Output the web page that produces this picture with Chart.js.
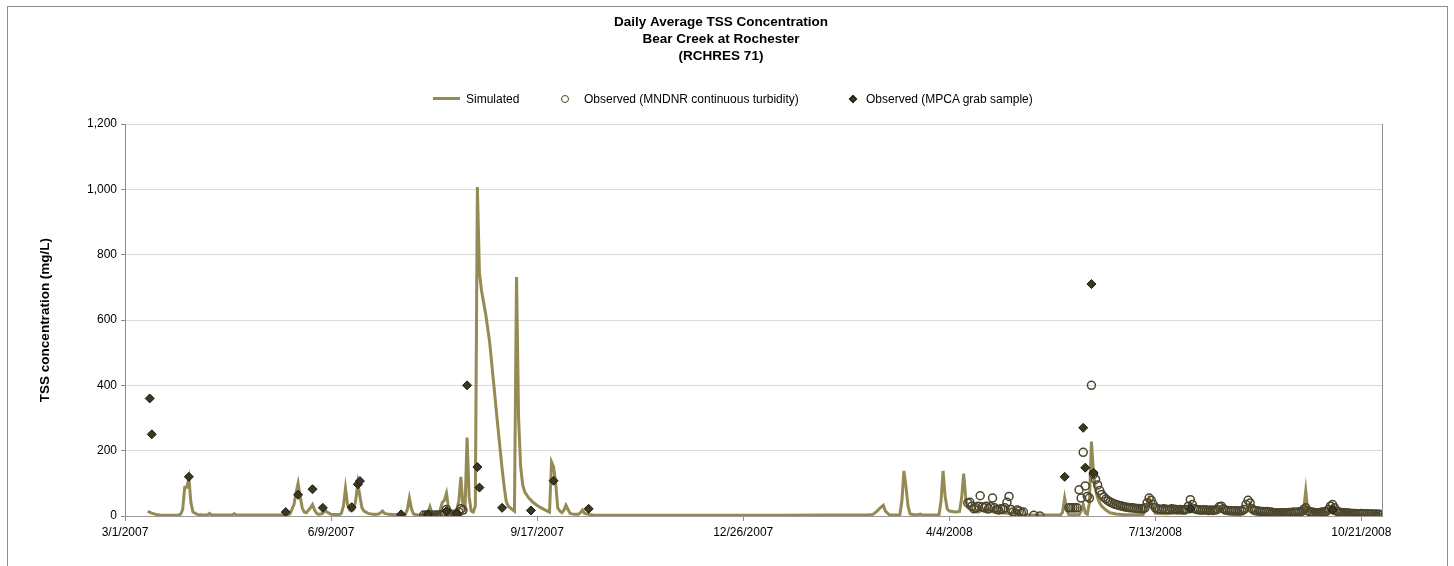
<!DOCTYPE html>
<html>
<head>
<meta charset="utf-8">
<title>Daily Average TSS Concentration - Bear Creek at Rochester</title>
<script src="https://cdn.jsdelivr.net/npm/chart.js@4/dist/chart.umd.min.js"></script>
<style>
    html, body { margin: 0; padding: 0; background: #fff; overflow: hidden; }
    body { width: 1454px; height: 566px; position: relative; font-family: 'Liberation Sans', Arial, sans-serif; }
    #frame { position: absolute; left: 7px; top: 6px; width: 1439px; height: 700px; border: 1px solid #8c8c8c; }
    #chart { position: absolute; left: 0; top: 0; }
    .legend-text { position: absolute; top: 92px; line-height: 14px; font-size: 12px; color: #000; white-space: nowrap; }
    .legend-mark { position: absolute; box-sizing: border-box; }
</style>
</head>
<body>
<div id="frame"></div>
<canvas id="chart" width="1454" height="566"></canvas>

<!-- legend -->
<div class="legend-mark" style="left:433px; top:97px; width:27px; height:3px; background:#948A54;"></div>
<span class="legend-text" style="left:466px;">Simulated</span>
<div class="legend-mark" style="left:561px; top:95px; width:8px; height:8px; border:1.25px solid #4A452A; border-radius:50%;"></div>
<span class="legend-text" style="left:584px;">Observed (MNDNR continuous turbidity)</span>
<div class="legend-mark" style="left:850px; top:96px; width:6px; height:6px; background:#3B3723; border:1px solid #1D1B10; transform:rotate(45deg);"></div>
<span class="legend-text" style="left:866px;">Observed (MPCA grab sample)</span>

<script>
// x values are days since 3/1/2007

// X axis ticks
const xTickDays = [0, 100, 200, 300, 400, 500, 600];
const xTickLabels = ['3/1/2007', '6/9/2007', '9/17/2007', '12/26/2007', '4/4/2008', '7/13/2008', '10/21/2008'];

// Simulated (model) daily TSS
const simDays = [
    11, 13, 15, 17, 20, 24, 26, 27, 28, 29, 30, 31, 32, 33, 35, 38, 40, 41, 42, 52, 53, 54, 70, 78, 80, 82, 83, 84, 85, 86,
    87, 88, 90, 91, 92, 93, 94, 96, 97, 98, 100, 104, 105, 106, 107, 108, 109, 110, 111, 112, 113, 114, 115, 116, 118, 121, 123, 124, 125, 126,
    128, 134, 136, 137, 138, 139, 140, 142, 146, 147, 148, 149, 150, 152, 153, 154, 155, 156, 157, 158, 160, 161, 162, 163, 164, 165, 166, 167, 168, 169,
    170, 171, 172, 173, 175, 177, 179, 181, 183, 184, 185, 186, 188, 189, 190, 191, 192, 193, 194, 196, 198, 200, 202, 204, 206, 207, 208, 209, 210, 211,
    212, 213, 214, 215, 216, 218, 220, 221, 222, 223, 225, 227, 240, 280, 320, 340, 360, 363, 365, 366, 368, 369, 371, 376, 377, 378, 379, 380, 381, 384,
    386, 387, 395, 396, 397, 398, 399, 400, 403, 405, 406, 407, 408, 409, 411, 414, 416, 418, 420, 423, 426, 429, 432, 435, 438, 454, 455, 456, 457, 458,
    463, 464, 465, 466, 467, 468, 469, 470, 471, 472, 473, 474, 476, 478, 481, 485, 494, 495, 496, 497, 498, 499, 500, 505, 510, 515, 516, 517, 518, 525,
    530, 531, 532, 533, 540, 544, 545, 546, 547, 555, 565, 571, 572, 573, 574, 580, 584, 585, 586, 587, 595, 605, 610
];
const simValues = [
    14, 9, 5, 3, 2, 2, 3, 6, 20, 88, 88, 115, 40, 12, 5, 3, 3, 8, 3, 3, 7, 3, 3, 3, 6, 35, 70, 100, 60, 25,
    12, 10, 25, 35, 18, 8, 5, 8, 20, 12, 5, 4, 8, 30, 85, 35, 18, 15, 20, 50, 100, 60, 25, 15, 8, 5, 6, 10, 15, 8,
    5, 3, 4, 20, 55, 22, 6, 3, 3, 10, 28, 8, 3, 3, 20, 42, 48, 70, 25, 6, 5, 20, 45, 120, 30, 20, 240, 60, 15, 12,
    30, 1007, 745, 690, 620, 530, 400, 270, 145, 90, 45, 30, 20, 15, 732, 300, 150, 95, 73, 55, 42, 32, 25, 18, 12, 165, 150, 100, 25, 15,
    10, 18, 33, 20, 8, 5, 5, 10, 18, 8, 5, 3, 2, 2, 2, 3, 3, 5, 15, 22, 33, 15, 3, 3, 45, 138, 90, 30, 6, 3,
    6, 3, 3, 45, 138, 60, 22, 15, 12, 14, 55, 130, 55, 25, 18, 12, 18, 12, 14, 11, 10, 8, 6, 4, 3, 3, 12, 55, 20, 4,
    4, 15, 35, 10, 5, 40, 228, 130, 80, 55, 40, 30, 18, 10, 6, 4, 4, 15, 35, 55, 45, 20, 8, 7, 9, 10, 14, 35, 14, 10,
    11, 14, 25, 12, 8, 12, 18, 35, 12, 8, 6, 8, 20, 77, 15, 8, 12, 18, 30, 10, 6, 5, 5
];

// Observed, MNDNR continuous turbidity (daily runs, null = no value)
const mndnr2007Start = 145;
const mndnr2007 = [3, 2, 3, 3, 2, 2, 3, 2, 3, 4, 8, 20, 10, 4, 3, 5, 6, 12, 22, 18];

const mndnrSpring2008Start = 409;
const mndnrSpring2008 = [
    40, 42, 30, 22, 25, 30, 62, 28, 25, 30, 22, 28, 55, 25, 20, 18, 22, 20, 25, 42,
    60, 20, 12, 8, 18, 15, 10, 12, null, null, null, null, 2, null, null, 0
];

const mndnrSummer2008Start = 458;
const mndnrSummer2008 = [
    25, 25, 25, 25, 25, 80, 55, 195, 92, 60, 55, 400, 128, 112, 95, 78, 66, 58, 52, 47,
    43, 40, 37, 35, 33, 31, 30, 28, 27, 26, 25, 25, 24, 23, 23, 22, 22, 25, 40, 55,
    48, 35, 25, 22, 21, 20, 22, 21, 20, 20, 22, 21, 20, 19, 20, 19, 18, 20, 30, 50,
    35, 22, 20, 19, 18, 18, 19, 18, 17, 18, 17, 18, 20, 28, 30, 22, 18, 17, 16, 16,
    15, 16, 15, 15, 16, 20, 35, 48, 40, 22, 17, 16, 15, 14, 14, 13, 14, 13, 12, 11,
    10, 9, 9, 10, 10, 9, 10, 11, 10, 12, 11, 12, 12, 14, 20, 25, 16, 13, 12, 11,
    10, 10, 11, 12, 12, 14, 20, 30, 35, 25, 15, 12, 11, 10, 10, 9, 9, 8, 8, 8,
    7, 7, 8, 7, 6, 7, 6, 6, 5, 6, 5, 5, 4
];

// Observed, MPCA grab samples
const mpcaDays = [12, 13, 31, 78, 84, 91, 96, 110, 113, 114, 134, 147, 156, 161, 166, 171, 172, 183, 197, 208, 225, 456, 465, 466, 469, 470, 517, 586];
const mpcaValues = [360, 250, 120, 12, 65, 82, 25, 27, 97, 107, 5, 5, 15, 7, 400, 150, 87, 25, 17, 108, 22, 120, 270, 148, 710, 132, 22, 18];

// Y axis
const yMin = 0;
const yMax = 1200;
const yStep = 200;

const FONT = "'Liberation Sans', Arial, sans-serif";

function toPoints(days, values) {
    return days.map((d, i) => ({ x: d, y: values[i] }));
}

function runToPoints(start, values) {
    const pts = [];
    values.forEach((v, i) => {
        if (v !== null) pts.push({ x: start + i, y: v });
    });
    return pts;
}

const mndnrPoints = [
    ...runToPoints(mndnr2007Start, mndnr2007),
    ...runToPoints(mndnrSpring2008Start, mndnrSpring2008),
    ...runToPoints(mndnrSummer2008Start, mndnrSummer2008)
];

const ctx = document.getElementById('chart');

new Chart(ctx, {
    type: 'line',
    data: {
        datasets: [
            {
                label: 'Observed (MPCA grab sample)',
                type: 'scatter',
                data: toPoints(mpcaDays, mpcaValues),
                pointStyle: 'rectRot',
                pointRadius: 4.5,
                backgroundColor: '#3B3723',
                borderColor: '#1D1B10',
                borderWidth: 1,
                order: 1
            },
            {
                label: 'Observed (MNDNR continuous turbidity)',
                type: 'scatter',
                data: mndnrPoints,
                pointStyle: 'circle',
                pointRadius: 4,
                backgroundColor: 'rgba(0,0,0,0)',
                borderColor: '#4A452A',
                borderWidth: 1.5,
                order: 2
            },
            {
                label: 'Simulated',
                data: toPoints(simDays, simValues),
                borderColor: '#948A54',
                backgroundColor: '#948A54',
                borderWidth: 3,
                pointRadius: 0,
                tension: 0,
                fill: false,
                order: 3
            }
        ]
    },
    options: {
        responsive: false,
        animation: false,
        events: [],
        // left padding keeps the title centred where the original has it
        layout: { padding: { left: 60, right: 72, top: 0, bottom: 0 } },
        plugins: {
            legend: { display: false },
            tooltip: { enabled: false },
            title: {
                display: true,
                text: ['Daily Average TSS Concentration', 'Bear Creek at Rochester', '(RCHRES 71)'],
                color: '#000',
                font: { family: FONT, size: 13.5, weight: 'bold', lineHeight: 1.26 },
                padding: { top: 14, bottom: 59 }
            }
        },
        scales: {
            x: {
                type: 'linear',
                min: 0,
                max: 610,
                afterBuildTicks: (scale) => {
                    scale.ticks = xTickDays.map(v => ({ value: v }));
                },
                afterFit: (scale) => { scale.height = 50; },
                ticks: {
                    color: '#000',
                    font: { family: FONT, size: 12 },
                    padding: 4,
                    maxRotation: 0,
                    autoSkip: false,
                    callback: (value) => xTickLabels[xTickDays.indexOf(value)]
                },
                grid: {
                    drawOnChartArea: false,
                    drawTicks: true,
                    tickLength: 5,
                    tickColor: '#8c8c8c'
                },
                border: { color: '#9a9a9a', width: 1 }
            },
            y: {
                min: yMin,
                max: yMax,
                afterFit: (scale) => { scale.width = 65; },
                ticks: {
                    stepSize: yStep,
                    color: '#000',
                    font: { family: FONT, size: 12 },
                    padding: 4,
                    callback: (value) => value.toLocaleString('en-US')
                },
                grid: {
                    color: '#d9d9d9',
                    lineWidth: 1,
                    tickLength: 4,
                    tickColor: '#8c8c8c'
                },
                border: { color: '#8c8c8c', width: 1 },
                title: {
                    display: true,
                    text: 'TSS concentration (mg/L)',
                    color: '#000',
                    font: { family: FONT, size: 13.5, weight: 'bold' },
                    padding: { top: -23, bottom: 0 }
                }
            },
            yRight: {
                position: 'right',
                min: yMin,
                max: yMax,
                afterFit: (scale) => { scale.width = 0; },
                ticks: { display: false },
                grid: { drawOnChartArea: false, drawTicks: false },
                border: { color: '#8c8c8c', width: 1 }
            }
        }
    }
});
</script>
</body>
</html>
